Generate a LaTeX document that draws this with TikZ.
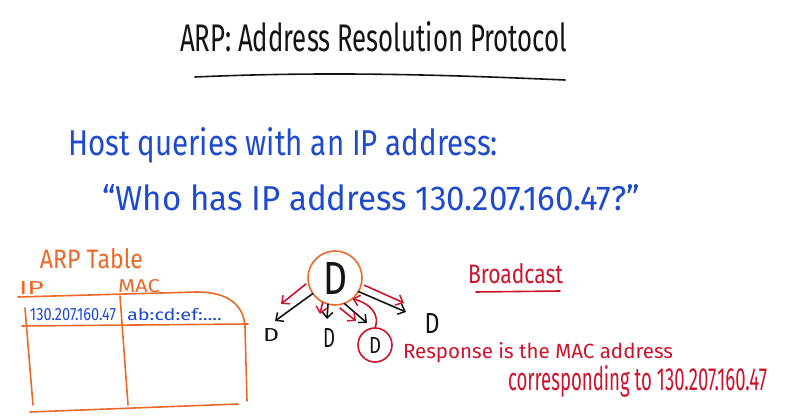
\documentclass[tikz,border=0pt]{standalone}
\usepackage{fontspec}
\setmainfont{Fira Sans}
\usepackage{graphicx}
\usetikzlibrary{arrows.meta}

\definecolor{ink}{RGB}{20,20,20}
\definecolor{inkblue}{RGB}{30,75,205}
\definecolor{inkorange}{RGB}{235,105,40}
\definecolor{inkred}{RGB}{205,20,45}

% text squeezed to a given width and height (in pt)
\newcommand\hand[3]{\resizebox{#1pt}{#2pt}{#3}}

\begin{document}
\begin{tikzpicture}[x=1pt,y=-1pt,line cap=round,line join=round,
  lbl/.style={anchor=base west,inner sep=0pt,outer sep=0pt},
  pen/.style={line width=1.6pt},
  tip/.style={-{Straight Barb[length=6pt,width=11pt,line width=1.5pt]}},
  dev/.style={inner sep=0pt,outer sep=0pt,text=ink},
]
\useasboundingbox[fill=white] (0,0) rectangle (787,417);

% title
\node[lbl,text=ink] (title) at (180,52) {\hand{387}{30}{ARP: Address Resolution Protocol}};
\draw[ink,pen] (195,77) .. controls (330,71) and (450,75) .. (565,80);

% query
\node[lbl,text=inkblue] (query) at (68,156) {\hand{430}{28}{Host queries with an IP address:}};
\node[lbl,text=inkblue] (who) at (102,210) {\hand{538}{26}{“Who has IP address 130.207.160.47?”}};

% ARP table
\node[lbl,text=inkorange] (tabtitle) at (40,268) {\hand{103}{20}{ARP Table}};
\node[lbl,text=inkorange] (iphead) at (19,294) {\hand{25}{13}{IP}};
\node[lbl,text=inkorange] (machead) at (118,292) {\hand{42}{13}{MAC}};
\draw[inkorange,pen] (18,297) -- (197,292) .. controls (228,292) and (244,305) .. (245,327) -- (247,401);
\draw[inkorange,pen] (22,326) -- (248,324);
\draw[inkorange,pen] (25,308) -- (33,405);
\draw[inkorange,pen] (120,296) -- (128,405);
\draw[inkorange,pen] (30,412) -- (238,404);
\node[lbl,text=inkblue] (ipval) at (30,320) {\hand{86}{12}{130.207.160.47}};
\node[lbl,text=inkblue] (macval) at (127,320) {\hand{95}{12}{ab:cd:ef:....}};

% hosts on the LAN
\node[dev,circle,draw=inkorange,pen,minimum size=54pt] (host) at (335,278) {\hand{24}{32}{D}};
\node[dev] (d1) at (271,335) {\hand{16}{13}{D}};
\node[dev] (d2) at (329,338) {\hand{12}{19}{D}};
\node[dev,circle,draw=inkred,pen,minimum size=34pt] (d3) at (375,345) {\hand{12}{16}{D}};
\node[dev] (d4) at (432,323) {\hand{15}{20}{D}};

% request sent to everyone
\draw[ink,pen,tip] (host.215) -- ([shift={(4,-14)}]d1.center);
\draw[ink,pen,tip] (host.255) -- ([shift={(-2,-19)}]d2.center);
\draw[ink,pen,tip] (host.290) -- ([shift={(-8,-22)}]d3.center);
\draw[ink,pen,tip] (host.330) -- ([shift={(-26,-11)}]d4.center);

\draw[inkred,pen,tip] ([shift={(-3,-1)}]host.195) -- ([shift={(10,-31)}]d1.center);
\draw[inkred,pen,tip] ([shift={(-1,0)}]host.245) -- ([shift={(-9,-24)}]d2.center);
\draw[inkred,pen,tip] ([shift={(-2,4)}]host.285) -- ([shift={(-19,-24)}]d3.center);
\draw[inkred,pen,tip] ([shift={(4,-2)}]host.340) -- ([shift={(-28,-20)}]d4.center);

% reply
\draw[inkred,pen,tip] (d3.north) .. controls (380,316) and (372,304) .. (host.310);

\node[lbl,text=inkred] (bcast) at (468,283) {\hand{95}{20}{Broadcast}};
\draw[inkred,pen] (476,292) -- (560,291);
\node[lbl,text=inkred] (resp1) at (403,358) {\hand{270}{16}{Response is the MAC address}};
\node[lbl,text=inkred] (resp2) at (508,390) {\hand{259}{25}{corresponding to 130.207.160.47}};
\end{tikzpicture}
\end{document}
